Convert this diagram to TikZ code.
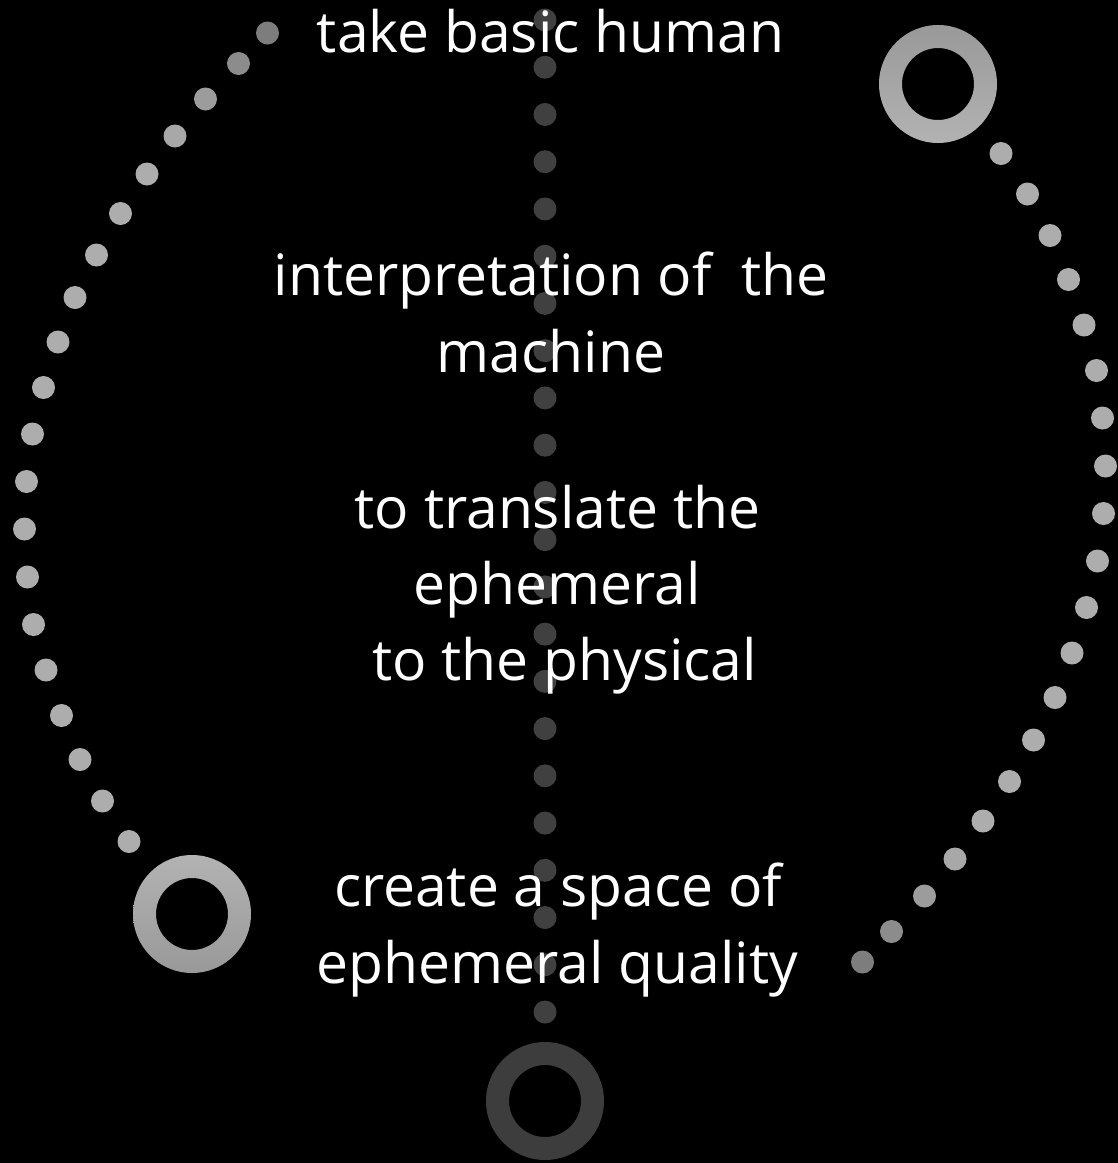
\documentclass[tikz,border=0pt]{standalone}
\usepackage{fontspec}
\setmainfont{Open Sans}
\begin{document}
\begin{tikzpicture}[x=1pt,y=-1pt,
  adot/.style={circle, inner sep=0pt, minimum size=23pt},
  cdot/.style={circle, inner sep=0pt, minimum size=23pt, fill=white!25!black},
  ring/.style={circle, inner sep=0pt, minimum size=118pt},
  lbl/.style={text=white, font=\fontsize{57}{76}\selectfont, anchor=base, inner sep=0pt}]
\fill[black] (0,0) rectangle (1118,1163);
\useasboundingbox (0,0) rectangle (1118,1163);
% centre column of dots
\foreach \i in {0,...,21}
  \node[cdot] (c\i) at (545,{20+47.24*\i}) {};
% the two arcs of dots (point symmetric about (565,497.5))
\foreach \x/\y/\g [count=\i] in {267.5/33/49, 238.5/63.5/55, 205.5/99/61, 175/136/66,
    147/174/68, 120.5/213.5/68, 96.5/255/68, 75/297.5/68, 58/342/68, 43.5/387.5/68,
    32.5/434/68, 26.5/481.5/68, 24.5/529/68, 27.5/577/68, 33.5/624.5/68, 46/670/68,
    61.5/715.5/68, 80/759.5/68, 102.5/801/68, 129/841.5/68} {
  \node[adot, fill=white!\g!black] (l\i) at (\x,\y) {};
  \node[adot, fill=white!\g!black] (r\i) at ({1130-\x},{995-\y}) {};
}
% rings
\node[ring] (ringTR) at (938,84) {};
\node[ring] (ringBL) at (192,914) {};
\node[ring] (ringB) at (545,1101) {};
\shade[even odd rule, shading angle=45, top color=white!60!black, bottom color=white!70!black]
  (ringTR.center) circle[radius=59pt] (ringTR.center) circle[radius=36pt];
\shade[even odd rule, shading angle=135, top color=white!70!black, bottom color=white!60!black]
  (ringBL.center) circle[radius=59pt] (ringBL.center) circle[radius=36pt];
\fill[even odd rule, white!24!black]
  (ringB.center) circle[radius=59pt] (ringB.center) circle[radius=36pt];
% texts
\node[lbl] (t1) at (550.5,52) {take basic human};
\node[lbl] (t2) at (551,295) {interpretation of\ \ the};
\node[lbl] (t3) at (551,372) {machine};
\node[lbl] (t4) at (557.5,528) {to translate the};
\node[lbl] (t5) at (557,604) {ephemeral};
\node[lbl] (t6) at (564.5,680) {to the physical};
\node[lbl] (t7) at (558,906) {create a space of};
\node[lbl] (t8) at (557.5,983) {ephemeral quality};
\end{tikzpicture}
\end{document}
